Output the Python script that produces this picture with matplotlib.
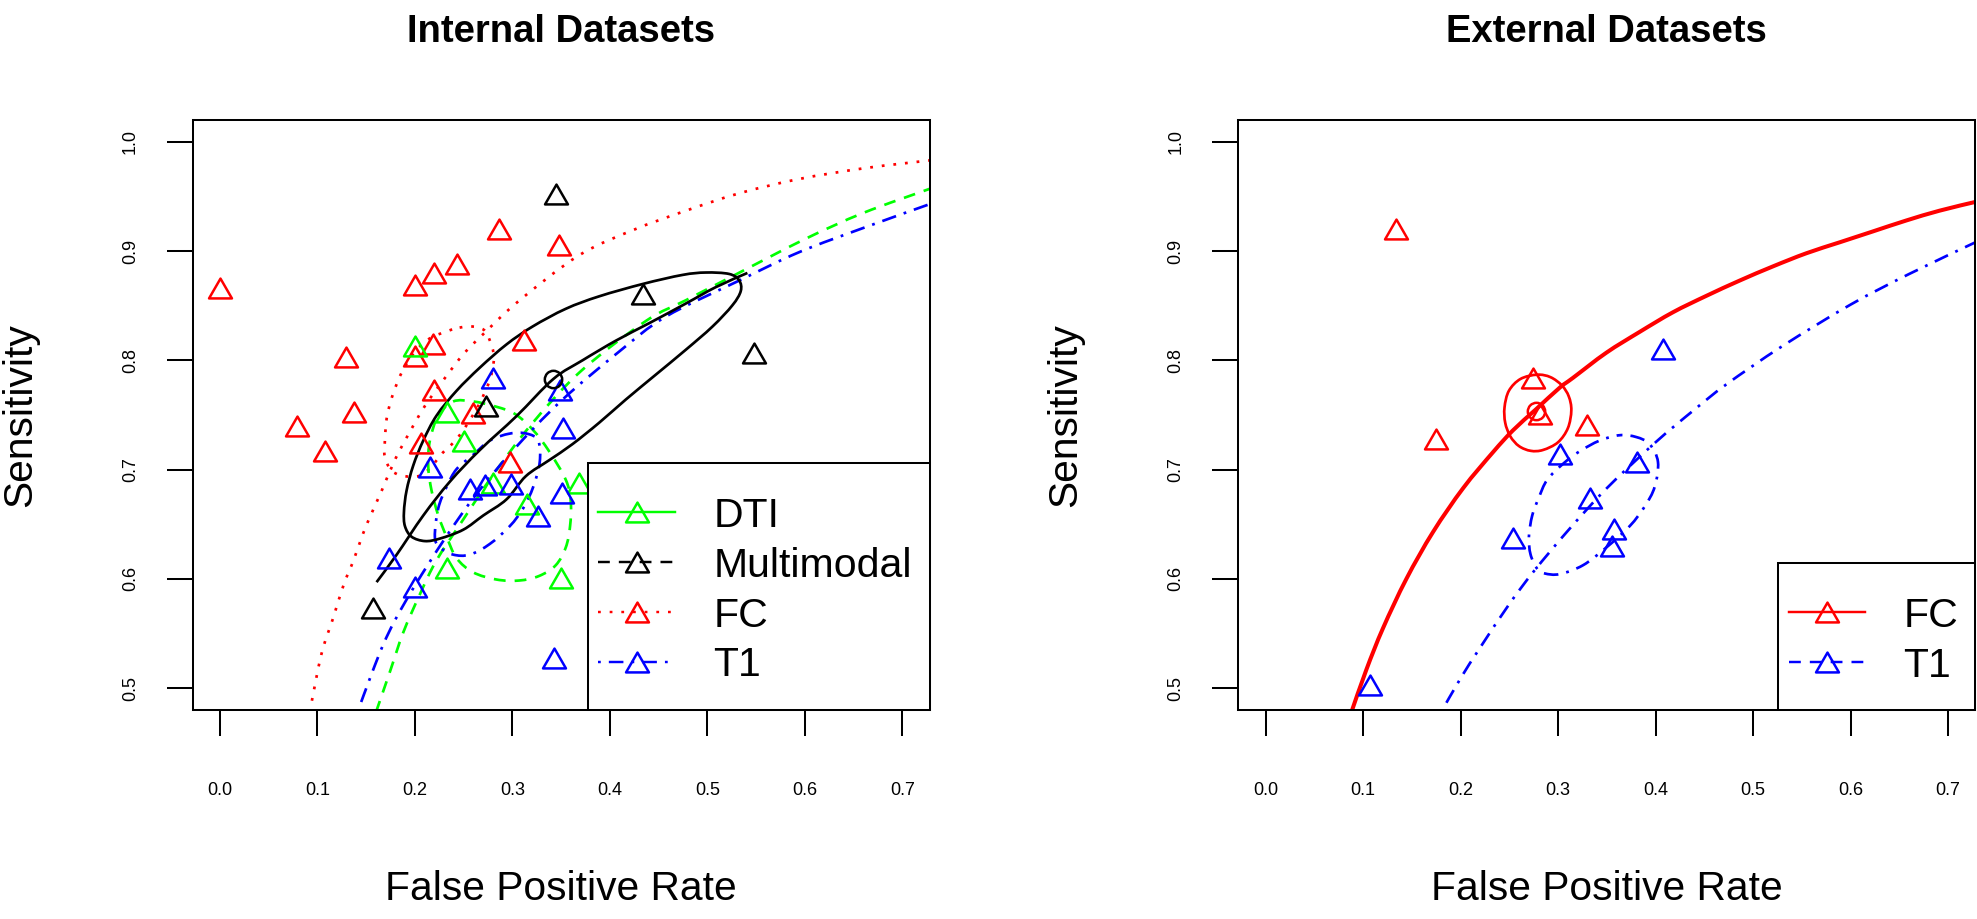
import matplotlib
matplotlib.use("Agg")
import matplotlib.pyplot as plt
from matplotlib.path import Path
from matplotlib.markers import MarkerStyle
from matplotlib.lines import Line2D
from matplotlib.patches import Rectangle, PathPatch

plt.rcParams['font.family'] = ['Liberation Sans', 'DejaVu Sans']
plt.rcParams['lines.scale_dashes'] = False

# ================= DATA =================
titles = ["Internal Datasets", "External Datasets"]
xlabel = "False Positive Rate"
ylabel = "Sensitivity"
xticks = [0.0, 0.1, 0.2, 0.3, 0.4, 0.5, 0.6, 0.7]
xticklabels = ["0.0", "0.1", "0.2", "0.3", "0.4", "0.5", "0.6", "0.7"]
yticks = [0.5, 0.6, 0.7, 0.8, 0.9, 1.0]
yticklabels = ["0.5", "0.6", "0.7", "0.8", "0.9", "1.0"]

# ---- Internal: study points ----
dti_int_fpr = [0.200, 0.233, 0.250, 0.280, 0.315, 0.233, 0.350, 0.368]
dti_int_sens = [0.813, 0.753, 0.726, 0.688, 0.669, 0.610, 0.601, 0.688]
multi_int_fpr = [0.345, 0.434, 0.548, 0.273, 0.157]
multi_int_sens = [0.952, 0.861, 0.807, 0.758, 0.573]
fc_int_fpr = [0.000, 0.286, 0.348, 0.243, 0.220, 0.200, 0.219, 0.200, 0.129,
              0.312, 0.220, 0.137, 0.260, 0.079, 0.108, 0.206, 0.297]
fc_int_sens = [0.866, 0.920, 0.906, 0.888, 0.880, 0.869, 0.815, 0.804, 0.803,
               0.819, 0.773, 0.753, 0.752, 0.740, 0.717, 0.724, 0.707]
t1_int_fpr = [0.280, 0.349, 0.352, 0.215, 0.256, 0.272, 0.299, 0.351, 0.326,
              0.173, 0.200, 0.343]
t1_int_sens = [0.784, 0.773, 0.738, 0.702, 0.682, 0.686, 0.687, 0.679, 0.658,
               0.619, 0.593, 0.528]
multi_int_summary = (0.342, 0.783)

# ---- Internal: SROC curves ----
dti_int_sroc_fpr = [0.160, 0.1743, 0.188, 0.2051, 0.2221, 0.250, 0.280, 0.320,
                    0.370, 0.4368, 0.4778, 0.5256, 0.600, 0.660, 0.728]
dti_int_sroc_sens = [0.478, 0.515, 0.551, 0.586, 0.617, 0.655, 0.695, 0.742,
                     0.790, 0.836, 0.855, 0.877, 0.911, 0.935, 0.957]
multi_int_sroc_fpr = [0.1606, 0.1811, 0.2085, 0.2358, 0.2666, 0.3042, 0.342,
                      0.3718, 0.406, 0.4402, 0.4778, 0.5085, 0.541]
multi_int_sroc_sens = [0.597, 0.622, 0.658, 0.689, 0.718, 0.749, 0.783,
                       0.800, 0.818, 0.834, 0.852, 0.867, 0.880]
fc_int_sroc_fpr = [0.092, 0.104, 0.116, 0.127, 0.137, 0.147, 0.156, 0.166, 0.180,
                   0.195, 0.210, 0.230, 0.250, 0.270, 0.306, 0.368, 0.423, 0.478,
                   0.533, 0.594, 0.662, 0.728]
fc_int_sroc_sens = [0.478, 0.531, 0.564, 0.595, 0.617, 0.642, 0.661, 0.681, 0.710,
                    0.735, 0.758, 0.783, 0.806, 0.824, 0.854, 0.896, 0.919, 0.937,
                    0.953, 0.966, 0.976, 0.983]
t1_int_sroc_fpr = [0.141, 0.1555, 0.1675, 0.180, 0.200, 0.230, 0.260, 0.300,
                   0.350, 0.4094, 0.4573, 0.5325, 0.594, 0.6624, 0.728]
t1_int_sroc_sens = [0.478, 0.513, 0.540, 0.563, 0.594, 0.636, 0.674, 0.717,
                    0.763, 0.808, 0.840, 0.873, 0.899, 0.922, 0.943]

# ---- Internal: confidence regions (boundary points) ----
dti_int_region_fpr = [0.2239, 0.2392, 0.2597, 0.2837, 0.3025, 0.321, 0.3376, 0.3547,
                      0.3598, 0.3591, 0.3547, 0.3444, 0.3274, 0.3068, 0.2837, 0.2597,
                      0.2427, 0.2324, 0.2239, 0.217, 0.2136, 0.2153]
dti_int_region_sens = [0.7494, 0.7624, 0.7624, 0.7575, 0.751, 0.7364, 0.7168, 0.6907,
                       0.6712, 0.6483, 0.6288, 0.6125, 0.6027, 0.5985, 0.5994, 0.606,
                       0.619, 0.6386, 0.6581, 0.6809, 0.7037, 0.7266]
multi_int_region_fpr = [0.1887, 0.1914, 0.1982, 0.2085, 0.2221, 0.2427, 0.2666, 0.2939,
                        0.3205, 0.3547, 0.3889, 0.434, 0.4744, 0.4983, 0.5222, 0.5325,
                        0.5342, 0.5256, 0.5051, 0.4778, 0.447, 0.4162, 0.3889, 0.3615,
                        0.3376, 0.3137, 0.2939, 0.270, 0.2495, 0.2256, 0.2102, 0.1965,
                        0.1897]
multi_int_region_sens = [0.6614, 0.6809, 0.7037, 0.7266, 0.7494, 0.7722, 0.7934, 0.8146,
                         0.8309, 0.8472, 0.8586, 0.870, 0.8782, 0.8804, 0.8791, 0.8733,
                         0.8635, 0.8504, 0.8309, 0.8097, 0.7869, 0.7641, 0.7429, 0.7233,
                         0.7086, 0.694, 0.6728, 0.658, 0.645, 0.6369, 0.6346, 0.6386,
                         0.6483]
fc_int_region_fpr = [0.2458, 0.2589, 0.2705, 0.2760, 0.2810, 0.2767, 0.2664, 0.256,
                     0.2459, 0.237, 0.228, 0.2168, 0.2065, 0.1963, 0.1843, 0.175,
                     0.169, 0.169, 0.171, 0.177, 0.187, 0.200, 0.215, 0.234]
fc_int_region_sens = [0.830, 0.831, 0.828, 0.820, 0.803, 0.782, 0.761, 0.745,
                      0.7316, 0.7225, 0.715, 0.7027, 0.695, 0.6935, 0.695, 0.700,
                      0.712, 0.724, 0.747, 0.768, 0.790, 0.808, 0.820, 0.827]
t1_int_region_fpr = [0.2973, 0.3144, 0.3264, 0.328, 0.3213, 0.311, 0.2973, 0.2768,
                     0.2563, 0.2392, 0.2256, 0.2204, 0.2239, 0.2324, 0.2427, 0.2597,
                     0.2768]
t1_int_region_sens = [0.733, 0.733, 0.7266, 0.707, 0.6842, 0.6646, 0.6483, 0.632,
                      0.6222, 0.6222, 0.6288, 0.6386, 0.6646, 0.6842, 0.7005, 0.7135,
                      0.7266]

# ---- External: study points ----
fc_ext_fpr = [0.134, 0.175, 0.274, 0.281, 0.330]
fc_ext_sens = [0.920, 0.728, 0.784, 0.751, 0.741]
t1_ext_fpr = [0.107, 0.254, 0.302, 0.408, 0.381, 0.333, 0.357, 0.355]
t1_ext_sens = [0.503, 0.637, 0.714, 0.810, 0.707, 0.674, 0.646, 0.630]
fc_ext_summary = (0.277, 0.754)

# ---- External: SROC curves ----
fc_ext_sroc_fpr = [0.088, 0.1034, 0.1205, 0.1444, 0.1718, 0.2026, 0.2333, 0.2538,
                   0.2771, 0.3017, 0.3153, 0.3495, 0.3836, 0.4178, 0.452, 0.4862,
                   0.5204, 0.5546, 0.5887, 0.6229, 0.6571, 0.6913, 0.728]
fc_ext_sroc_sens = [0.478, 0.517, 0.555, 0.600, 0.643, 0.683, 0.716, 0.736,
                    0.755, 0.775, 0.784, 0.807, 0.826, 0.844, 0.859, 0.873,
                    0.886, 0.898, 0.908, 0.918, 0.928, 0.937, 0.945]
t1_ext_sroc_fpr = [0.180, 0.200, 0.220, 0.250, 0.2752, 0.310, 0.350, 0.400, 0.440,
                   0.4726, 0.530, 0.600, 0.660, 0.728]
t1_ext_sroc_sens = [0.478, 0.509, 0.537, 0.577, 0.607, 0.644, 0.683, 0.725, 0.755,
                    0.778, 0.813, 0.851, 0.879, 0.908]

# ---- External: confidence regions ----
fc_ext_region_fpr = [0.2786, 0.2923, 0.3040, 0.3110, 0.3136, 0.3101, 0.2999, 0.2846,
                     0.2720, 0.2600, 0.2510, 0.2458, 0.2451, 0.2496, 0.2615]
fc_ext_region_sens = [0.7869, 0.7846, 0.7770, 0.7670, 0.7543, 0.7380, 0.7250, 0.7180,
                      0.7172, 0.7215, 0.7305, 0.7429, 0.757, 0.7722, 0.7830]
t1_ext_region_fpr = [0.3632, 0.3803, 0.394, 0.4025, 0.3991, 0.3889, 0.3735, 0.3496,
                     0.3256, 0.3017, 0.2863, 0.2786, 0.2718, 0.2701, 0.2735, 0.2803,
                     0.2889, 0.306, 0.3222, 0.3427]
t1_ext_region_sens = [0.7315, 0.7298, 0.7233, 0.707, 0.6842, 0.6663, 0.6483, 0.6288,
                      0.6125, 0.6044, 0.605, 0.6092, 0.6223, 0.6386, 0.658, 0.6744,
                      0.6907, 0.706, 0.7168, 0.7266]

legend_int_labels = ["DTI", "Multimodal", "FC", "T1"]
legend_ext_labels = ["FC", "T1"]

# ================= STYLE =================
GREEN, RED, BLUE, BLACK = '#00FF00', '#FF0000', '#0000FF', '#000000'
SOLID = '-'
DASHED = (0, (8.5, 6.5))
DOTTED = (0, (2.0, 6.4))
DOTDASH = (0, (2.0, 5.8, 10.5, 5.8))
LW = 1.95
TRI = MarkerStyle(Path([(0, 0.75), (-0.866, -0.75), (0.866, -0.75), (0, 0.75)],
                       [Path.MOVETO, Path.LINETO, Path.LINETO, Path.CLOSEPOLY]),
                  joinstyle='round')
MS, MEW = 16.5, 1.8

W, H, DPI = 1977, 919, 100
fig = plt.figure(figsize=(W / DPI, H / DPI), dpi=DPI)
fig.patch.set_facecolor('white')

AX_TOP, AX_BOT = 120, 710
AX_LEFTS = [192.7, 1238.3]
AX_W = 737.0


def fxp(px):
    return px / W


def fyp(py):
    return 1 - py / H


axes = []
for left in AX_LEFTS:
    ax = fig.add_axes([fxp(left), fyp(AX_BOT), AX_W / W, (AX_BOT - AX_TOP) / H])
    ax.set_xlim(-0.028, 0.728)
    ax.set_ylim(0.48, 1.02)
    ax.set_xticks(xticks)
    ax.set_xticklabels(xticklabels)
    ax.set_yticks(yticks)
    ax.set_yticklabels(yticklabels, rotation=90, va='center')
    ax.tick_params(axis='both', length=18.7, width=1.45, direction='out',
                   labelsize=13, color='black')
    ax.tick_params(axis='x', pad=33)
    ax.tick_params(axis='y', pad=20)
    for sp in ax.spines.values():
        sp.set_linewidth(1.45)
    axes.append(ax)

ax1, ax2 = axes


def smooth_path(xs, ys, closed):
    """Smooth drawing path (Catmull-Rom as cubic Bezier) through the read points."""
    pts = list(zip(xs, ys))
    n = len(pts)
    verts = [pts[0]]
    codes = [Path.MOVETO]
    segs = n if closed else n - 1
    for i in range(segs):
        if closed:
            p0, p1, p2, p3 = pts[(i - 1) % n], pts[i % n], pts[(i + 1) % n], pts[(i + 2) % n]
        else:
            p0, p1 = pts[max(i - 1, 0)], pts[i]
            p2, p3 = pts[i + 1], pts[min(i + 2, n - 1)]
        c1 = (p1[0] + (p2[0] - p0[0]) / 6.0, p1[1] + (p2[1] - p0[1]) / 6.0)
        c2 = (p2[0] - (p3[0] - p1[0]) / 6.0, p2[1] - (p3[1] - p1[1]) / 6.0)
        verts += [c1, c2, p2]
        codes += [Path.CURVE4] * 3
    return Path(verts, codes)


def curve(ax, xs, ys, color, ls, lw=LW, closed=False):
    patch = PathPatch(smooth_path(xs, ys, closed), fill=False, edgecolor=color,
                      linestyle=ls, linewidth=lw, capstyle='butt', joinstyle='round',
                      zorder=2)
    ax.add_patch(patch)


def points(ax, xs, ys, color):
    ax.plot(xs, ys, linestyle='none', marker=TRI, markersize=MS,
            markeredgewidth=MEW, markerfacecolor='none', markeredgecolor=color,
            zorder=3)


def summary(ax, pt, color):
    ax.plot([pt[0]], [pt[1]], linestyle='none', marker='o', markersize=12.5,
            markeredgewidth=MEW, markerfacecolor='none', markeredgecolor=color,
            zorder=3)


# ---- Internal panel ----
points(ax1, fc_int_fpr, fc_int_sens, RED)
points(ax1, dti_int_fpr, dti_int_sens, GREEN)
points(ax1, multi_int_fpr, multi_int_sens, BLACK)
points(ax1, t1_int_fpr, t1_int_sens, BLUE)
curve(ax1, fc_int_sroc_fpr, fc_int_sroc_sens, RED, DOTTED)
curve(ax1, fc_int_region_fpr, fc_int_region_sens, RED, DOTTED, closed=True)
curve(ax1, dti_int_sroc_fpr, dti_int_sroc_sens, GREEN, DASHED)
curve(ax1, dti_int_region_fpr, dti_int_region_sens, GREEN, DASHED, closed=True)
curve(ax1, t1_int_sroc_fpr, t1_int_sroc_sens, BLUE, DOTDASH)
curve(ax1, t1_int_region_fpr, t1_int_region_sens, BLUE, DOTDASH, closed=True)
curve(ax1, multi_int_sroc_fpr, multi_int_sroc_sens, BLACK, SOLID)
curve(ax1, multi_int_region_fpr, multi_int_region_sens, BLACK, SOLID, closed=True)
summary(ax1, multi_int_summary, BLACK)

# ---- External panel ----
points(ax2, fc_ext_fpr, fc_ext_sens, RED)
points(ax2, t1_ext_fpr, t1_ext_sens, BLUE)
curve(ax2, fc_ext_sroc_fpr, fc_ext_sroc_sens, RED, SOLID, lw=2.9)
curve(ax2, fc_ext_region_fpr, fc_ext_region_sens, RED, SOLID, closed=True)
curve(ax2, t1_ext_sroc_fpr, t1_ext_sroc_sens, BLUE, DOTDASH)
curve(ax2, t1_ext_region_fpr, t1_ext_region_sens, BLUE, DOTDASH, closed=True)
summary(ax2, fc_ext_summary, RED)


# ---- Legends (drawn in figure pixel space) ----
def legend(box, rows, line_x, marker_x, text_x, labels, colors, styles):
    x0, y0, x1, y1 = box
    fig.patches.append(Rectangle((fxp(x0), fyp(y1)), (x1 - x0) / W, (y1 - y0) / H,
                                 transform=fig.transFigure, facecolor='white',
                                 edgecolor='black', linewidth=1.45, zorder=5))
    for ry, lab, col, ls in zip(rows, labels, colors, styles):
        fig.lines.append(Line2D([fxp(line_x[0]), fxp(line_x[1])], [fyp(ry), fyp(ry)],
                                transform=fig.transFigure, color=col, linestyle=ls,
                                linewidth=LW * 0.9, dash_capstyle='butt', zorder=6))
        fig.lines.append(Line2D([fxp(marker_x)], [fyp(ry)], transform=fig.transFigure,
                                linestyle='none', marker=TRI, markersize=MS,
                                markeredgewidth=MEW, markerfacecolor='none',
                                markeredgecolor=col, zorder=6))
        fig.text(fxp(text_x), fyp(ry), lab, fontsize=29.5, ha='left', va='center_baseline',
                 zorder=7)


legend((588.3, 463.3, 930.0, 710.0), [511.7, 561.7, 612.3, 661.5], (598.3, 675.0),
       636.7, 713.3, legend_int_labels, [GREEN, BLACK, RED, BLUE],
       [SOLID, DASHED, DOTTED, DOTDASH])
legend((1778.3, 562.9, 1975.3, 710.0), [611.8, 661.8], (1789.3, 1865.0),
       1827.3, 1903.3, legend_ext_labels, [RED, BLUE], [SOLID, DASHED])

# ---- Titles and axis labels ----
for left, title in zip(AX_LEFTS, titles):
    cx = left + AX_W / 2
    fig.text(fxp(cx), fyp(42), title, fontsize=27.5, fontweight='bold',
             ha='center', va='baseline')
    fig.text(fxp(cx), fyp(900), xlabel, fontsize=29.3, ha='center', va='baseline')
    fig.text(fxp(left - 173), fyp((AX_TOP + AX_BOT) / 2), ylabel, fontsize=29.3,
             rotation=90, ha='center', va='center')

fig.savefig("out.png", dpi=DPI, facecolor='white')
